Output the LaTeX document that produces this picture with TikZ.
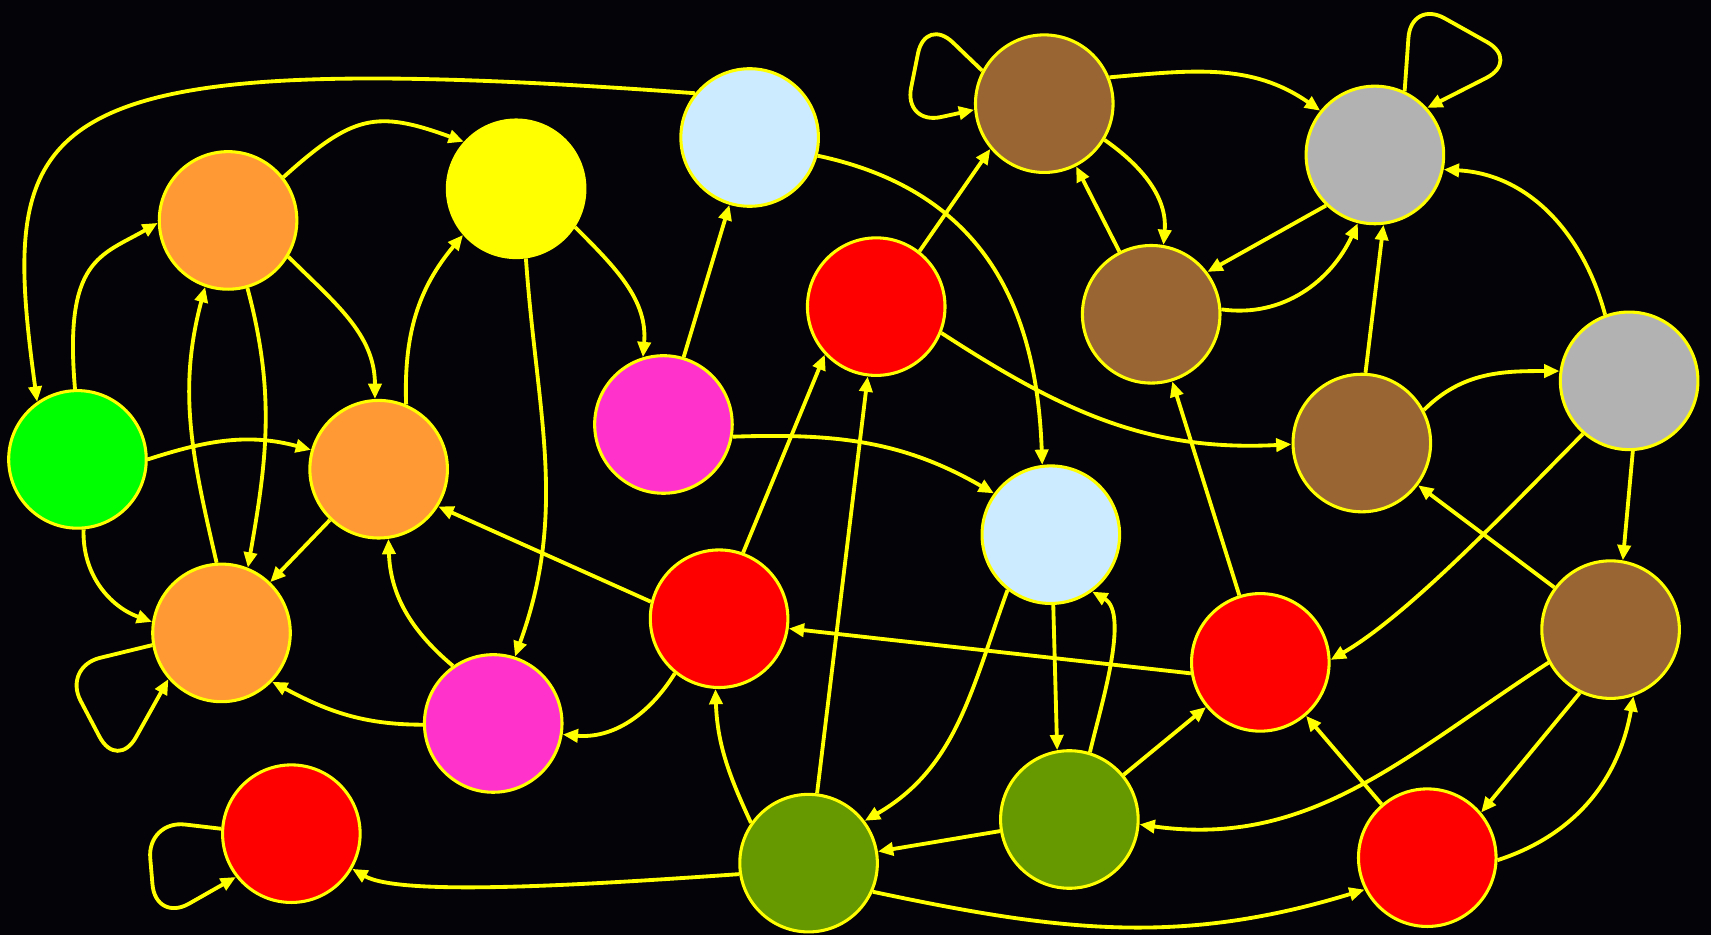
\documentclass[tikz,border=0pt]{standalone}
\usepackage{tikz}
\usetikzlibrary{arrows.meta}

\definecolor{bgdark}{RGB}{3,3,8}
\definecolor{edgeyellow}{RGB}{255,255,0}
\definecolor{nodeorange}{RGB}{255,153,51}
\definecolor{nodeblue}{RGB}{204,235,255}
\definecolor{nodebrown}{RGB}{153,102,51}
\definecolor{nodegray}{RGB}{178,178,178}
\definecolor{nodegreen}{RGB}{0,255,0}
\definecolor{nodepink}{RGB}{255,51,204}
\definecolor{nodered}{RGB}{255,0,0}
\definecolor{nodeolive}{RGB}{102,153,0}

\begin{document}
\begin{tikzpicture}[
    x=0.01cm, y=-0.01cm,
    vertex/.style={
        circle, draw=edgeyellow, fill=#1, line width=0.8pt,
        minimum size=1.26cm, inner sep=0pt
    },
    vertex/.default=nodered,
    flow/.style={
        -{Triangle[length=4pt, width=3.4pt]}, draw=edgeyellow,
        line width=1pt
    },
    selfloop/.style={
        flow, rounded corners=10pt
    },
]

% ── Canvas ──
\useasboundingbox (0,0) rectangle (1568,857);
\fill[bgdark] (0,0) rectangle (1568,857);

% ── Vertices ──
\node[vertex=nodeorange] (orange1) at (209,202) {};
\node[vertex=edgeyellow] (yellow1) at (473,173) {};
\node[vertex=nodeblue] (blue1) at (687,126) {};
\node[vertex=nodebrown] (brown1) at (957,95) {};
\node[vertex=nodegray] (gray1) at (1260,142) {};
\node[vertex=nodegreen] (green1) at (71,421) {};
\node[vertex=nodeorange] (orange2) at (347,430) {};
\node[vertex=nodepink] (pink1) at (608,389) {};
\node[vertex] (red1) at (803,281) {};
\node[vertex=nodebrown] (brown2) at (1055,288) {};
\node[vertex=nodebrown] (brown3) at (1248,406) {};
\node[vertex=nodegray] (gray2) at (1493,349) {};
\node[vertex=nodeorange] (orange3) at (203,580) {};
\node[vertex=nodeblue] (blue2) at (963,490) {};
\node[vertex] (red2) at (659,567) {};
\node[vertex=nodepink] (pink2) at (452,663) {};
\node[vertex] (red3) at (1155,607) {};
\node[vertex=nodebrown] (brown4) at (1476,577) {};
\node[vertex] (red4) at (267,764) {};
\node[vertex=nodeolive] (olive1) at (741,791) {};
\node[vertex=nodeolive] (olive2) at (980,751) {};
\node[vertex] (red5) at (1308,786) {};

% ── Left part ──
\draw[flow] (blue1.141) .. controls (20,40) and (-2,104) .. (green1.125);
\draw[flow] (green1.92) to[out=95, in=210, out distance=1.2cm, in distance=0.6cm] (orange1.182);
\draw[flow] (orange1.38) to[out=42, in=160, looseness=1.3] (yellow1.138);
\draw[flow] (orange1.-74) to[out=-75, in=80] (orange3.68);
\draw[flow] (orange3.94) to[out=103, in=-105] (orange1.-109);
\draw[flow] (orange1.-31) to[out=-45, in=90] (orange2.93);
\draw[flow] (orange2.67) to[out=92, in=230] (yellow1.-139);
\draw[flow] (yellow1.-33) to[out=-45, in=85] (pink1.107);
\draw[flow] (yellow1.-82) to[out=-86, in=70] (pink2.72);
\draw[flow] (pink1) -- (blue1);
\draw[flow] (green1.0) to[out=18, in=165] (orange2.164);
\draw[flow] (green1.-85) to[out=-92, in=160] (orange3.171);
\draw[flow] (orange2) -- (orange3);
\draw[selfloop] (orange3.190) -- ++(-82,20) -- ++(50,95) -- (orange3.221);
\draw[flow] (pink2.125) to[out=140, in=-88] (orange2.-82);
\draw[flow] (pink2.181) to[out=180, in=-28] (orange3.-44);
\draw[flow] (red2.166) -- (orange2.-32);
\draw[flow] (red2.-129) to[out=-122, in=-5] (pink2.-9);
\draw[flow] (red2.70) -- (red1.-137);
\draw[flow] (pink1.-10) to[out=2, in=150] (blue2.144);
\draw[flow] (blue1.-15) to[out=-12, in=92, looseness=1.1] (blue2.97);

% ── Upper right ──
\draw[flow] (red1.52) -- (brown1.-140);
\draw[flow] (red1.-22) to[out=-33, in=183] (brown3.181);
\draw[selfloop] (brown1.152) -- ++(-52,-50) -- ++(-20,100) -- (brown1.185);
\draw[flow] (brown1.22) to[out=5, in=145] (gray1.141);
\draw[flow] (brown1.-31) to[out=-35, in=85] (brown2.80);
\draw[flow] (brown2) -- (brown1);
\draw[flow] (gray1.-134) -- (brown2.37);
\draw[flow] (brown2.4) to[out=-8, in=-115] (gray1.-104);
\draw[selfloop] (gray1.65) -- ++(6,-84) -- ++(100,56) -- (gray1.42);
\draw[flow] (gray2.110) to[out=105, in=-3] (gray1.-12);
\draw[flow] (brown3.87) -- (gray1.-83);
\draw[flow] (brown3.28) to[out=45, in=180] (gray2.172);
\draw[flow] (gray2.-87) -- (brown4.80);
\draw[flow] (gray2.-131) to[out=-135, in=30, looseness=0.7] (red3.2);

% ── Lower right ──
\draw[flow] (brown4) -- (brown3);
\draw[flow] (brown4.-116) -- (red5.40);
\draw[flow] (brown4.-152) to[out=-147, in=-8] (olive2.-4);
\draw[flow] (red5.-2) to[out=18, in=-100] (brown4.-71);
\draw[flow] (red5) -- (red3);
\draw[flow] (red3) -- (brown2);
\draw[flow] (red3.189) -- (red2.-8);
\draw[flow] (blue2.-88) -- (olive2.100);
\draw[flow] (olive2.73) to[out=77, in=-30, looseness=0.7] (blue2.-54);
\draw[flow] (blue2.-128) to[out=-110, in=30] (olive1.37);
\draw[flow] (olive2) -- (red3);
\draw[flow] (olive2) -- (olive1);
\draw[flow] (olive1) -- (red1);
\draw[flow] (olive1.145) to[out=115, in=-88] (red2.-93);
\draw[flow] (olive1.189) to[out=184, in=-30, out distance=1.5cm, in distance=0.5cm] (red4.-30);
\draw[flow] (olive1.-24) to[out=-12, in=197] (red5.-153);
\draw[selfloop] (red4.176) -- ++(-68,-8) -- ++(8,94) -- (red4.-142);

\end{tikzpicture}
\end{document}
